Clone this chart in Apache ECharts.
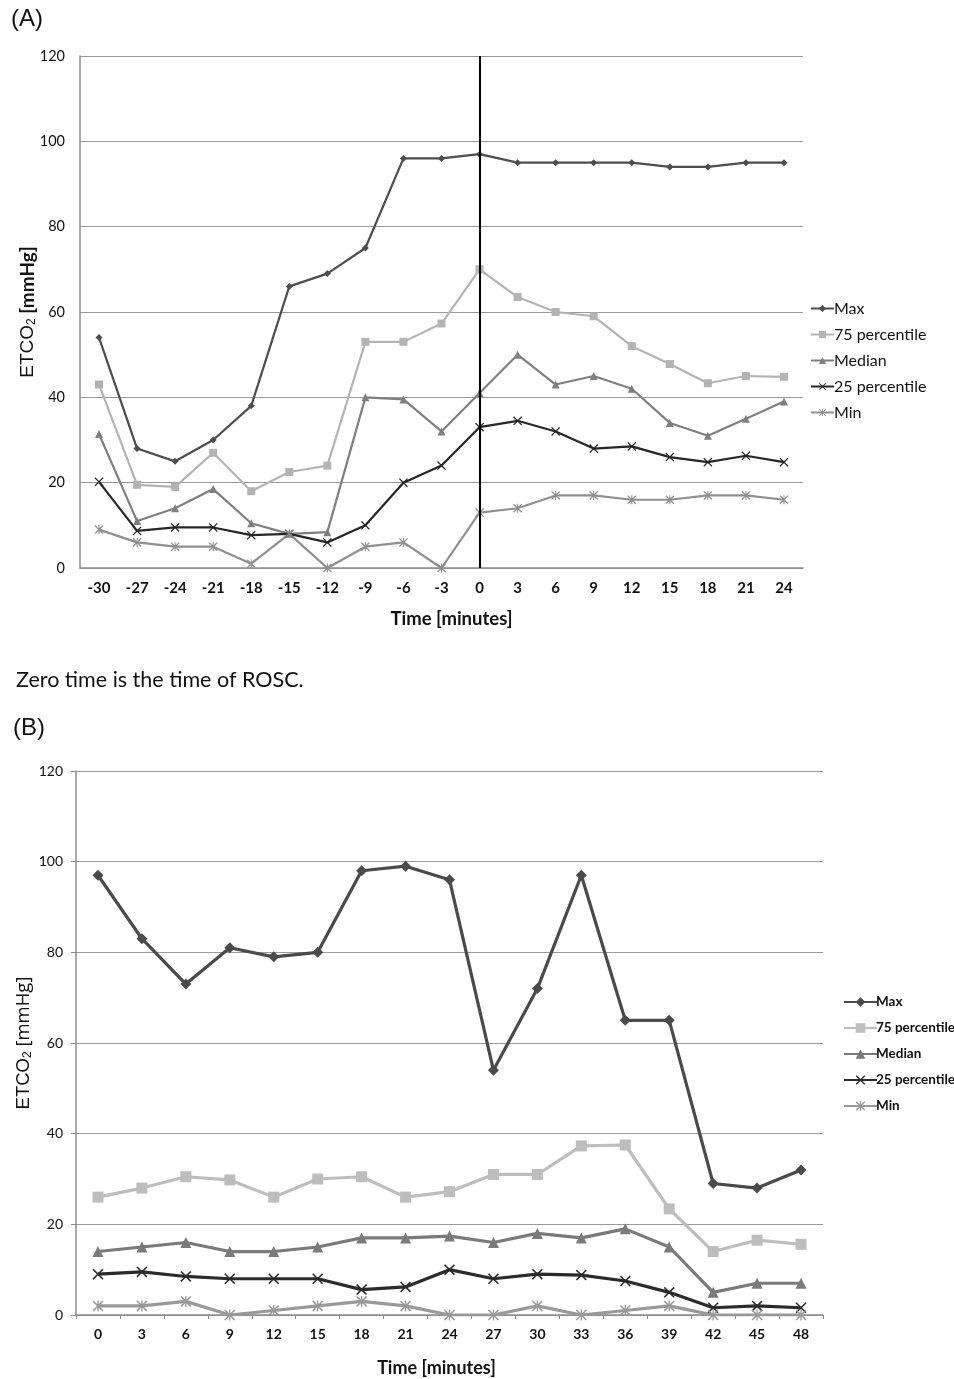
<!DOCTYPE html>
<html><head><meta charset="utf-8">
<script src="https://cdn.jsdelivr.net/npm/echarts@6/dist/echarts.min.js"></script>
<style>html,body{margin:0;padding:0;background:#fff}#c{width:954px;height:1379px}</style>
</head><body><div id="c"></div>
<script>
// ---- Data (A) ----
const catA = ['-30','-27','-24','-21','-18','-15','-12','-9','-6','-3','0','3','6','9','12','15','18','21','24'];
const aMax = [54,28,25,30,38,66,69,75,96,96,97,95,95,95,95,94,94,95,95];
const a75  = [43,19.5,19,27,18,22.5,24,53,53,57.3,70,63.5,60,59,52,47.8,43.3,45,44.8];
const aMed = [31.4,11,14,18.5,10.5,8,8.4,40,39.5,32,41,50,43,45,42,34,31,35,39];
const a25  = [20.2,8.7,9.5,9.5,7.7,8,6,10,20,24,33,34.5,32,28,28.5,26,24.8,26.3,24.8];
const aMin = [9,6,5,5,1,8,0,5,6,0,13,14,17,17,16,16,17,17,16];
// ---- Data (B) ----
const catB = ['0','3','6','9','12','15','18','21','24','27','30','33','36','39','42','45','48'];
const bMax = [97,83,73,81,79,80,98,99,96,54,72,97,65,65,29,28,32];
const b75  = [26,28,30.5,29.8,26,30,30.5,26,27.2,31,31,37.3,37.5,23.4,14,16.5,15.6];
const bMed = [14,15,16,14,14,15,17,17,17.4,16,18,17,19,15,5,7,7];
const b25  = [9,9.5,8.5,8,8,8,5.6,6.2,10,8,9,8.8,7.5,5,1.6,2,1.6];
const bMin = [2,2,3,0,1,2,3,2,0,0,2,0,1,2,0,0,0];
const seriesNames = ['Max','75 percentile','Median','25 percentile','Min'];

const X_PATH = 'path://M1,0 L5,4 L9,0 L10,1 L6,5 L10,9 L9,10 L5,6 L1,10 L0,9 L4,5 L0,1 Z';
const AST_PATH = 'path://M1,0 L5,4 L9,0 L10,1 L6,5 L10,9 L9,10 L5,6 L1,10 L0,9 L4,5 L0,1 Z M4.4,0 L5.6,0 L5.6,10 L4.4,10 Z';
const symbols = ['diamond','rect','triangle',X_PATH,AST_PATH];
const colA = ['#4d4d4d','#b3b3b3','#7f7f7f','#262626','#8f8f8f'];
const colB = ['#4a4a4a','#bdbdbd','#7a7a7a','#2b2b2b','#999999'];
const sizeA = [7,8,8,9,9];
const sizeB = [11,11,11,11,11];

const dataA = [aMax,a75,aMed,a25,aMin];
const dataB = [bMax,b75,bMed,b25,bMin];

const labelFont = 'Lato';
const series = [];
dataA.forEach((d,i)=>{
  const s = {
    name: seriesNames[i], type:'line', xAxisIndex:0, yAxisIndex:0, data:d,
    symbol: symbols[i], symbolSize: sizeA[i], showAllSymbol:true,
    lineStyle:{color:colA[i], width:2.2}, itemStyle:{color:colA[i]},
    z: 3
  };
  if(i===0){
    s.markLine = {silent:true, symbol:['none','none'], label:{show:false},
      lineStyle:{color:'#000', width:2, type:'solid'}, data:[{xAxis:'0'}], animation:false, z:5};
  }
  series.push(s);
});
dataB.forEach((d,i)=>{
  series.push({
    name: 'B:'+seriesNames[i], type:'line', xAxisIndex:1, yAxisIndex:1, data:d,
    symbol: symbols[i], symbolSize: sizeB[i], showAllSymbol:true,
    lineStyle:{color:colB[i], width:3.2}, itemStyle:{color:colB[i]}, z:3
  });
});

const yName = (fs, boldB)=>({
  name: '{a|ETCO}{s|2}{b| [mmHg]}',
  nameLocation:'middle', nameRotate:90, nameMoveOverlap:false,
  nameTextStyle:{fontSize:fs, fontFamily:'Liberation Sans', color:'#111', rich:{
    a:{fontFamily:'Liberation Sans', fontSize: fs, color:'#111'},
    s:{fontFamily:'Liberation Sans', fontSize: Math.round(fs*0.65), color:'#111', padding:[Math.round(fs*0.45),0,0,0]},
    b:{fontFamily: boldB ? 'Lato' : 'Open Sans', fontWeight: boldB ? 'bold' : 'normal', fontSize: fs, color:'#111'}
  }}
});

const option = {
  animation:false,
  backgroundColor:'#fff',
  grid:[
    {left:80, top:56, right:151, bottom:811, containLabel:false},
    {left:76, top:771, right:131, bottom:64, containLabel:false}
  ],
  xAxis:[
    {type:'category', gridIndex:0, data:catA, boundaryGap:true,
     axisLine:{lineStyle:{color:'#8c8c8c', width:1.5}}, axisTick:{show:false},
     axisLabel:{color:'#111', fontFamily:labelFont, fontWeight:'bold', fontSize:15, margin:13},
     name:'Time [minutes]', nameLocation:'middle', nameGap:42,
     nameTextStyle:{color:'#111', fontFamily:labelFont, fontWeight:'bold', fontSize:18.5, padding:[0,0,0,20]}},
    {type:'category', gridIndex:1, data:catB, boundaryGap:true,
     axisLine:{lineStyle:{color:'#8c8c8c', width:1.5}}, axisTick:{show:true, length:4, lineStyle:{color:'#8c8c8c'}},
     axisLabel:{color:'#111', fontFamily:labelFont, fontWeight:'bold', fontSize:14, margin:12},
     name:'Time [minutes]', nameLocation:'middle', nameGap:44,
     nameTextStyle:{color:'#111', fontFamily:labelFont, fontWeight:'bold', fontSize:18, padding:[0,26,0,0]}}
  ],
  yAxis:[
    Object.assign({type:'value', gridIndex:0, min:0, max:120, interval:20,
     axisLine:{show:true, lineStyle:{color:'#8c8c8c', width:1.5}}, axisTick:{show:false},
     splitLine:{lineStyle:{color:'#9a9a9a', width:1.2}},
     axisLabel:{color:'#111', fontFamily:labelFont, fontSize:14.5, margin:15},
     nameGap:42}, yName(19, true)),
    Object.assign({type:'value', gridIndex:1, min:0, max:120, interval:20,
     axisLine:{show:true, lineStyle:{color:'#8c8c8c', width:1.5}}, axisTick:{show:true, length:5, lineStyle:{color:'#8c8c8c'}},
     splitLine:{lineStyle:{color:'#9a9a9a', width:1.2}},
     axisLabel:{color:'#111', fontFamily:labelFont, fontSize:14, margin:13},
     nameGap:42}, yName(18.5, false))
  ],
  legend:[
    {orient:'vertical', left:805, top:295, itemGap:9, itemWidth:23, itemHeight:9,
     data:seriesNames, selectedMode:false,
     textStyle:{fontFamily:labelFont, fontSize:16, color:'#111', padding:[0,0,0,-5], lineHeight:17}},
    {orient:'vertical', left:838, top:990, itemGap:12, itemWidth:33, itemHeight:12,
     data:seriesNames.map(n=>'B:'+n), selectedMode:false,
     formatter:(n)=>n.replace('B:',''),
     textStyle:{fontFamily:labelFont, fontWeight:'bold', fontSize:13.5, color:'#111', padding:[0,0,0,-6], lineHeight:14}}
  ],
  graphic:[
    {type:'text', left:11, top:7, style:{text:'(A)', font:'24px "Liberation Sans"', fill:'#111'}},
    {type:'text', left:16, top:669, style:{text:'Zero time is the time of ROSC.', font:'21.5px Lato', fill:'#111'}},
    {type:'text', left:13, top:716, style:{text:'(B)', font:'24px "Liberation Sans"', fill:'#111'}}
  ],
  series: series
};
const chart = echarts.init(document.getElementById('c'), null, {renderer:'canvas'});
chart.setOption(option);
</script></body></html>
